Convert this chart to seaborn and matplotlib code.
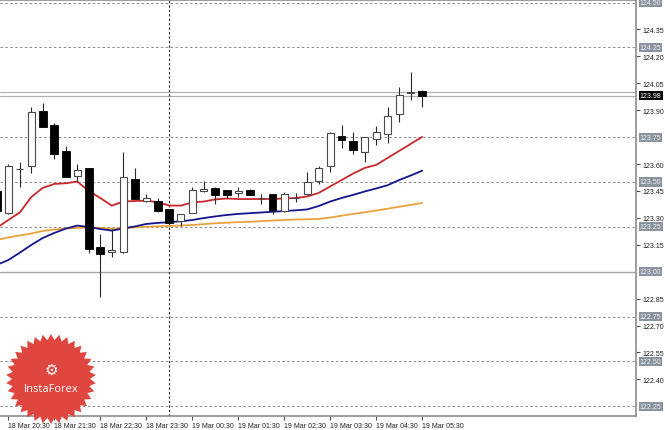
import numpy as np
import pandas as pd
import matplotlib
matplotlib.use("Agg")
import matplotlib.pyplot as plt
import matplotlib.transforms as mtransforms
from matplotlib.patches import Polygon
import seaborn as sns

# ---------------- data (15-minute candles, 18 Mar 20:15 .. 19 Mar 05:30) ----------------
opens = [123.450, 123.326, 123.572, 123.591, 123.897, 123.818, 123.671, 123.535, 123.578, 123.140,
         123.108, 123.108, 123.517, 123.392, 123.396, 123.350, 123.281, 123.327, 123.448, 123.467,
         123.455, 123.437, 123.457, 123.408, 123.433, 123.337, 123.408, 123.433, 123.507, 123.587,
         123.758, 123.727, 123.665, 123.740, 123.767, 123.879, 123.996, 124.009]
highs = [123.460, 123.600, 123.610, 123.916, 123.938, 123.827, 123.699, 123.600, 123.580, 123.210,
         123.238, 123.669, 123.576, 123.433, 123.411, 123.352, 123.322, 123.470, 123.507, 123.472,
         123.457, 123.474, 123.460, 123.433, 123.435, 123.443, 123.436, 123.557, 123.591, 123.777,
         123.818, 123.777, 123.752, 123.810, 123.916, 124.028, 124.111, 124.012]
lows = [123.330, 123.320, 123.474, 123.548, 123.805, 123.628, 123.526, 123.504, 123.103, 122.858,
        123.080, 123.105, 123.403, 123.390, 123.335, 123.265, 123.253, 123.325, 123.445, 123.377,
        123.409, 123.415, 123.425, 123.377, 123.322, 123.335, 123.386, 123.430, 123.489, 123.554,
        123.688, 123.656, 123.610, 123.706, 123.716, 123.836, 123.958, 123.916]
closes = [123.338, 123.591, 123.574, 123.888, 123.808, 123.656, 123.530, 123.567, 123.127, 123.099,
          123.121, 123.526, 123.405, 123.409, 123.340, 123.272, 123.320, 123.457, 123.461, 123.429,
          123.429, 123.448, 123.429, 123.410, 123.344, 123.433, 123.411, 123.498, 123.576, 123.771,
          123.736, 123.678, 123.749, 123.777, 123.869, 123.985, 124.000, 123.977]

ma_red = [123.244, 123.288, 123.330, 123.416, 123.467, 123.489, 123.493, 123.502, 123.450, 123.411,
          123.368, 123.391, 123.394, 123.396, 123.387, 123.369, 123.368, 123.386, 123.391, 123.403,
          123.408, 123.405, 123.405, 123.405, 123.405, 123.408, 123.411, 123.419, 123.439, 123.475,
          123.511, 123.547, 123.578, 123.595, 123.634, 123.673, 123.712, 123.751]
ma_blue = [123.038, 123.065, 123.106, 123.149, 123.188, 123.216, 123.240, 123.257, 123.249, 123.238,
           123.229, 123.241, 123.252, 123.266, 123.272, 123.276, 123.281, 123.288, 123.299, 123.308,
           123.316, 123.322, 123.326, 123.330, 123.334, 123.338, 123.342, 123.347, 123.366, 123.391,
           123.411, 123.428, 123.447, 123.464, 123.482, 123.511, 123.536, 123.563]
ma_orange = [123.177, 123.191, 123.202, 123.213, 123.227, 123.235, 123.241, 123.244, 123.247, 123.244,
             123.239, 123.243, 123.247, 123.250, 123.253, 123.255, 123.257, 123.260, 123.265, 123.270,
             123.273, 123.276, 123.278, 123.282, 123.285, 123.288, 123.291, 123.292, 123.294, 123.302,
             123.312, 123.322, 123.331, 123.341, 123.351, 123.362, 123.372, 123.383]

time_labels = ["18 Mar 20:30", "18 Mar 21:30", "18 Mar 22:30", "18 Mar 23:30", "19 Mar 00:30",
               "19 Mar 01:30", "19 Mar 02:30", "19 Mar 03:30", "19 Mar 04:30", "19 Mar 05:30"]
price_ticks = [124.35, 124.20, 124.05, 123.90, 123.60, 123.45, 123.30, 123.15,
               122.85, 122.70, 122.55, 122.40]
level_lines = [124.50, 124.25, 123.75, 123.50, 123.25, 122.75, 122.50, 122.25]
level_boxes = [124.50, 124.25, 123.75, 123.50, 123.25, 123.00, 122.75, 122.50, 122.25]
round_level = 123.00
bid_price = 123.98
ask_price = 124.00

# ---------------- figure ----------------
sns.set_style("white")
plt.rcParams['font.family'] = ['Liberation Sans', 'DejaVu Sans']
W, H = 665, 431
FS = 5.0
fig = plt.figure(figsize=(W / 100, H / 100), dpi=100)
fig.patch.set_facecolor("white")
ax = fig.add_axes([0, 1 - 417 / H, 636 / W, 416 / H])

n = len(opens)
xs = np.arange(n) - 1           # first (partial) candle is 20:15
df = pd.DataFrame({"x": xs, "open": opens, "high": highs, "low": lows, "close": closes,
                   "Fast": ma_red, "Mid": ma_blue, "Slow": ma_orange})

# moving averages
ma_long = df.melt(id_vars="x", value_vars=["Slow", "Mid", "Fast"], var_name="ma", value_name="v")
sns.lineplot(data=ma_long, x="x", y="v", hue="ma",
             palette={"Slow": "#eba23a", "Mid": "#14148c", "Fast": "#c8282d"},
             linewidth=1.3, legend=False, ax=ax, zorder=3)

# candles
up = df["close"] >= df["open"]
ax.vlines(df["x"], df["low"], df["high"], color="#2a2a2a", linewidth=0.8, zorder=4)
body_lo = np.minimum(df["open"], df["close"])
body_h = np.maximum(np.abs(df["close"] - df["open"]), 0.0015)
ax.bar(df["x"][up], body_h[up], bottom=body_lo[up], width=0.62,
       facecolor="white", edgecolor="#4a4a4a", linewidth=0.8, zorder=5)
ax.bar(df["x"][~up], body_h[~up], bottom=body_lo[~up], width=0.66,
       facecolor="black", edgecolor="black", linewidth=0.6, zorder=5)

# grid / levels
for lv in level_lines:
    ax.axhline(lv, color="#8a8a8a", linewidth=0.7, linestyle=(0, (2.5, 2.5)), zorder=1)
ax.axhline(round_level, color="#a8a8a8", linewidth=1.0, zorder=1)
ax.axhline(bid_price, color="#b0b0b0", linewidth=0.9, zorder=1)
ax.axhline(ask_price, color="#b0b0b0", linewidth=0.9, zorder=1)
ax.axvline(14, color="#202020", linewidth=0.8, linestyle=(0, (2, 2)), zorder=1)

ax.set_xlim(-0.72, 54.6)
ax.set_ylim(122.196, 124.514)
ax.set_xlabel("")
ax.set_ylabel("")

# x axis ticks
ax.set_xticks(np.arange(0, 4 * len(time_labels), 4))
ax.set_xticklabels(time_labels)
for lab in ax.get_xticklabels():
    lab.set_horizontalalignment("left")
ax.tick_params(axis="x", direction="out", length=3, width=0.8, color="#505050",
               labelsize=FS, pad=1.5, labelcolor="#202020", bottom=True)

# y axis on the right
ax.yaxis.tick_right()
ax.set_yticks(price_ticks)
ax.set_yticklabels([f"{v:.2f}" for v in price_ticks])
ax.tick_params(axis="y", direction="out", length=3, width=0.8, color="#505050",
               labelsize=FS, pad=2, labelcolor="#202020", right=True, left=False)

trans = mtransforms.blended_transform_factory(ax.transAxes, ax.transData)
for lv in level_boxes:
    ax.text(1.006, lv, f"{lv:.2f}", transform=trans, ha="left", va="center",
            fontsize=FS, color="#eef1f5", clip_on=False, zorder=6,
            bbox=dict(boxstyle="square,pad=0.15", facecolor="#8b939e", edgecolor="none"))
ax.text(1.006, bid_price, f"{bid_price:.2f}", transform=trans, ha="left", va="center",
        fontsize=FS, color="white", clip_on=False, zorder=7,
        bbox=dict(boxstyle="square,pad=0.15", facecolor="black", edgecolor="none"))

ax.spines["left"].set_visible(False)
for side in ["right", "bottom", "top"]:
    ax.spines[side].set_color("#8c8c8c")
    ax.spines[side].set_linewidth(1.2)

# ---------------- InstaForex badge ----------------
cx, cy, r_out, r_in, spikes = 51, 380, 45, 39, 34
ang = np.linspace(0, 2 * np.pi, 2 * spikes, endpoint=False) + np.pi / 2
rad = np.where(np.arange(2 * spikes) % 2 == 0, r_out, r_in)
pts = np.column_stack([(cx + rad * np.cos(ang)) / W, 1 - (cy - rad * np.sin(ang)) / H])
fig.add_artist(Polygon(pts, closed=True, transform=fig.transFigure,
                       facecolor="#df4640", edgecolor="none", zorder=10))
fig.text(cx / W, 1 - 370 / H, "\u2699", transform=fig.transFigure, ha="center", va="center",
         fontsize=11, color="white", zorder=11, family="DejaVu Sans")
fig.text(cx / W, 1 - 390 / H, "InstaForex", transform=fig.transFigure, ha="center", va="center",
         fontsize=8, color="white", zorder=11, family="Open Sans")

fig.savefig("out.png", dpi=100, facecolor="white")
